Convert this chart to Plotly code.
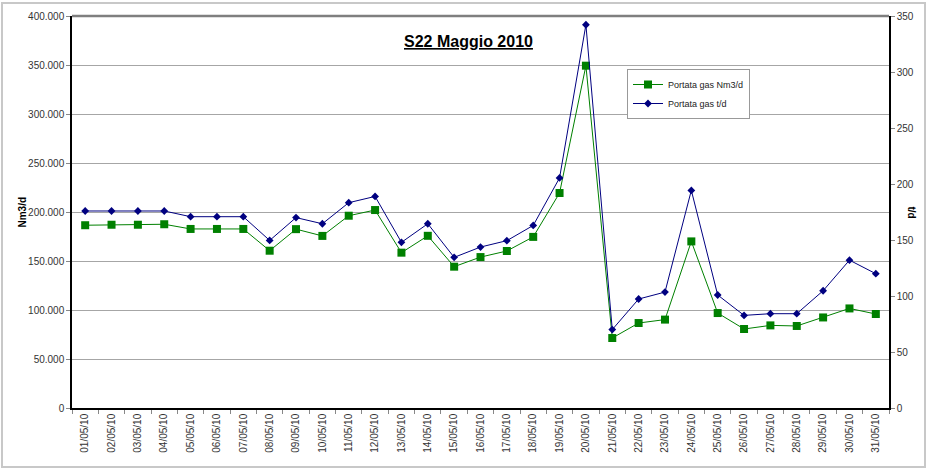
import plotly.graph_objects as go

dates = ["01/05/10","02/05/10","03/05/10","04/05/10","05/05/10","06/05/10","07/05/10",
         "08/05/10","09/05/10","10/05/10","11/05/10","12/05/10","13/05/10","14/05/10",
         "15/05/10","16/05/10","17/05/10","18/05/10","19/05/10","20/05/10","21/05/10",
         "22/05/10","23/05/10","24/05/10","25/05/10","26/05/10","27/05/10","28/05/10",
         "29/05/10","30/05/10","31/05/10"]

portata_nm3 = [186500, 187000, 187000, 187500, 182700, 182700, 182700,
               160500, 182500, 175600, 196200, 202000, 158500, 175700,
               144200, 154000, 160200, 174600, 219400, 349300, 71400,
               86700, 90200, 170000, 96900, 80600, 84300, 83700,
               92400, 101600, 95900]

portata_t = [175.9, 175.9, 175.9, 175.9, 170.8, 170.8, 170.8,
             149.6, 170.0, 164.5, 183.3, 188.9, 147.9, 164.5,
             134.5, 143.7, 149.4, 163.0, 205.4, 342.2, 70.0,
             97.3, 103.5, 194.3, 100.9, 82.7, 84.2, 84.2,
             104.7, 132.0, 119.9]

FONT = "Liberation Sans, Arial, sans-serif"

fig = go.Figure()
fig.add_trace(go.Scatter(
    x=dates, y=portata_nm3, name="Portata gas Nm3/d", mode="lines+markers",
    line=dict(color="#008000", width=1),
    marker=dict(symbol="square", size=8, color="#008000"),
))
fig.add_trace(go.Scatter(
    x=dates, y=portata_t, name="Portata gas t/d", mode="lines+markers", yaxis="y2",
    line=dict(color="#000080", width=1),
    marker=dict(symbol="diamond", size=6, color="#000080"),
))

L, R, T, B = 72, 39, 16, 62
W, H = 928, 470
pw, ph = W - L - R, H - T - B

def px(x):
    return (x - L) / pw

def py(y):
    return 1 - (y - T) / ph

fig.update_layout(
    width=W, height=H,
    margin=dict(l=L, r=R, t=T, b=B, autoexpand=False),
    paper_bgcolor="white", plot_bgcolor="white",
    separators=",.",
    font=dict(family=FONT, size=10, color="#333333"),
    showlegend=True,
    legend=dict(
        x=px(627), y=py(69), xanchor="left", yanchor="top",
        bgcolor="white", bordercolor="#999999", borderwidth=1,
        font=dict(family=FONT, size=9, color="#222222"),
        itemwidth=30, tracegroupgap=0,
    ),
    xaxis=dict(
        type="category", tickangle=-90, showgrid=False, automargin=False,
        showline=True, linecolor="black", linewidth=1.5,
        ticks="outside", tickson="boundaries", ticklen=4, tickcolor="#888888",
        tickfont=dict(family=FONT, size=10, color="#333333"),
        range=[-0.5, len(dates) - 0.5],
    ),
    yaxis=dict(
        range=[0, 400000], dtick=50000, tickformat=",d", automargin=False,
        showgrid=True, gridcolor="#a6a6a6", gridwidth=1,
        showline=True, linecolor="black", linewidth=1.5,
        ticks="outside", ticklen=4, tickcolor="#888888",
        tickfont=dict(family=FONT, size=10, color="#333333"),
        zeroline=False,
    ),
    yaxis2=dict(
        range=[0, 350], dtick=50, overlaying="y", side="right", automargin=False,
        showgrid=False, showline=True, linecolor="black", linewidth=1.5,
        ticks="outside", ticklen=4, tickcolor="#888888",
        tickfont=dict(family=FONT, size=10, color="#333333"),
        zeroline=False,
    ),
    shapes=[
        dict(type="line", xref="paper", yref="paper", x0=0, x1=1, y0=1, y1=1,
             line=dict(color="#7f7f7f", width=2.5)),
        dict(type="rect", xref="paper", yref="paper",
             x0=px(2), x1=px(925), y0=py(467), y1=py(3),
             line=dict(color="#c8c8c8", width=2), layer="below"),
    ],
    annotations=[
        dict(text="S22 Maggio 2010", xref="paper", yref="paper",
             x=px(468), y=py(31), showarrow=False,
             font=dict(family=FONT, size=16, color="black", weight="bold",
                       lineposition="under")),
        dict(text="<b>Nm3/d</b>", xref="paper", yref="paper",
             x=px(14), y=py(212), showarrow=False, textangle=-90,
             font=dict(family=FONT, size=10, color="black")),
        dict(text="<b>t/d</b>", xref="paper", yref="paper",
             x=px(919), y=py(212), showarrow=False, textangle=90,
             font=dict(family=FONT, size=10, color="black")),
    ],
)

fig.write_html("out.html", config={"displayModeBar": False},
               post_script="document.body.style.margin='0';")
